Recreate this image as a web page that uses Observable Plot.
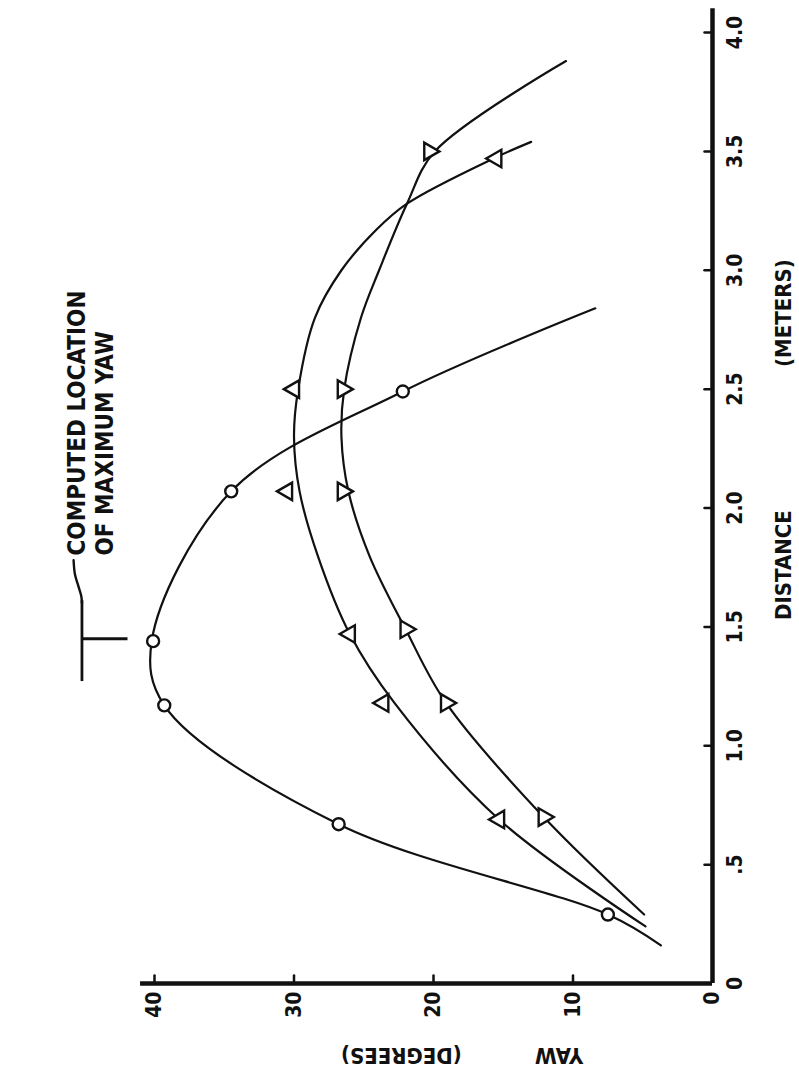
<!DOCTYPE html>
<html>
<head>
<meta charset="utf-8">
<script src="https://cdn.jsdelivr.net/npm/d3@7"></script>
<script src="https://cdn.jsdelivr.net/npm/@observablehq/plot@0.6"></script>
<style>
  html, body { margin: 0; padding: 0; background: #fff; }
  #chart { width: 799px; height: 1079px; overflow: hidden; }
  #chart text { font-stretch: condensed; }
</style>
</head>
<body>
<div id="chart"></div>
<script>
// ---- axis ticks ----
const distTicks = [0, 0.5, 1, 1.5, 2, 2.5, 3, 3.5, 4];
const distLabels = ["0", ".5", "1.0", "1.5", "2.0", "2.5", "3.0", "3.5", "4.0"];
const yawTicks = [0, 10, 20, 30, 40];
const yawLabels = ["0", "10", "20", "30", "40"];

// ---- measured points (distance m, yaw deg) ----
const circleDist = [0.29, 0.67, 1.17, 1.44, 2.07, 2.49];
const circleYaw  = [7.5, 26.8, 39.3, 40.1, 34.5, 22.2];
const triBDist = [0.69, 1.18, 1.47, 2.07, 2.50, 3.47];
const triBYaw  = [15.3, 23.6, 26.0, 30.5, 30.0, 15.5];
const triCDist = [0.70, 1.18, 1.49, 2.07, 2.50, 3.50];
const triCYaw  = [12.1, 19.1, 22.0, 26.5, 26.5, 20.3];

// ---- faired curves ----
const curveADist = [0.16, 0.29, 0.67, 1.17, 1.44, 2.07, 2.49, 2.84];
const curveAYaw  = [3.7, 7.5, 26.8, 39.3, 40.2, 34.5, 22.2, 8.4];
const curveBDist = [0.24, 0.69, 1.18, 1.47, 1.80, 2.07, 2.30, 2.50, 2.80, 3.00, 3.17, 3.28, 3.47, 3.54];
const curveBYaw  = [4.8, 15.3, 22.8, 26.0, 28.3, 29.6, 30.0, 29.7, 28.5, 26.6, 24.1, 21.9, 15.7, 13.0];
const curveCDist = [0.29, 0.70, 1.18, 1.49, 1.80, 2.07, 2.30, 2.50, 2.80, 3.00, 3.28, 3.50, 3.88];
const curveCYaw  = [4.9, 12.1, 19.1, 22.0, 24.6, 26.1, 26.6, 26.4, 25.2, 23.9, 21.9, 19.9, 10.5];

// ---- annotation ----
const maxYawDist = 1.45;
const noteText = "COMPUTED LOCATION\nOF MAXIMUM YAW";
const leaderDist = [1.78, 1.72, 1.67, 1.63, 1.60];
const leaderYaw  = [45.8, 45.7, 45.45, 45.25, 45.2];

const pts = (d, y) => d.map((v, i) => ({dist: v, yaw: y[i]}));
const tickShape = { draw(ctx, l) { ctx.moveTo(0, 0); ctx.lineTo(0, -l); } };
const font = "'DejaVu Sans Condensed', 'DejaVu Sans', sans-serif";
const ink = "#111";

const chart = Plot.plot({
  width: 799,
  height: 1079,
  marginLeft: 154,
  marginRight: 87,
  marginTop: 32,
  marginBottom: 96,
  x: {domain: [40, 0], axis: null},
  y: {domain: [0, 4], axis: null},
  style: {fontFamily: font, background: "#fff", color: ink},
  marks: [
    // axis lines
    Plot.ruleX([0], {y1: 0, y2: 4.1, stroke: ink, strokeWidth: 4.5}),
    Plot.ruleY([0], {x1: 0, x2: 41, stroke: ink, strokeWidth: 4.5}),
    // tick marks (pointing inward)
    Plot.vector(distTicks.slice(1), {x: 0, y: d => d, length: 8, rotate: -90, anchor: "start", shape: tickShape, stroke: ink, strokeWidth: 2.5}),
    Plot.vector(yawTicks.slice(1), {x: d => d, y: 0, length: 8, rotate: 0, anchor: "start", shape: tickShape, stroke: ink, strokeWidth: 2.5}),
    // tick labels
    Plot.axisY(distTicks, {anchor: "right", tickSize: 0, tickPadding: 23, tickRotate: -90,
      textAnchor: "middle", lineAnchor: "middle", fontSize: 21, fontWeight: "bold",
      tickFormat: d => distLabels[distTicks.indexOf(d)], label: null}),
    Plot.axisX(yawTicks, {anchor: "bottom", tickSize: 0, tickPadding: 8, tickRotate: -90,
      textAnchor: "end", lineAnchor: "middle", fontSize: 21, fontWeight: "bold",
      tickFormat: d => yawLabels[yawTicks.indexOf(d)], label: null}),
    // axis titles
    Plot.text(["DISTANCE"], {x: -5.1, y: 1.76, rotate: -90, fontSize: 22, fontWeight: "bold", letterSpacing: 3, text: d => d}),
    Plot.text(["(METERS)"], {x: -5.1, y: 2.82, rotate: -90, fontSize: 22, fontWeight: "bold", letterSpacing: 3, text: d => d}),
    Plot.text(["YAW"], {x: 11.0, y: -0.30, rotate: 180, fontSize: 22, fontWeight: "bold", letterSpacing: 3, text: d => d}),
    Plot.text(["(DEGREES)"], {x: 22.3, y: -0.30, rotate: 180, fontSize: 22, fontWeight: "bold", letterSpacing: 3, text: d => d}),
    // faired curves
    Plot.line(pts(curveADist, curveAYaw), {x: "yaw", y: "dist", curve: "catmull-rom", stroke: ink, strokeWidth: 2.2}),
    Plot.line(pts(curveBDist, curveBYaw), {x: "yaw", y: "dist", curve: "catmull-rom", stroke: ink, strokeWidth: 2.2}),
    Plot.line(pts(curveCDist, curveCYaw), {x: "yaw", y: "dist", curve: "catmull-rom", stroke: ink, strokeWidth: 2.2}),
    // data symbols
    Plot.dot(pts(circleDist, circleYaw), {x: "yaw", y: "dist", r: 6, fill: "#fff", stroke: ink, strokeWidth: 2.4}),
    Plot.dot(pts(triBDist, triBYaw), {x: "yaw", y: "dist", symbol: "triangle", rotate: -90, r: 6.5, fill: "#fff", stroke: ink, strokeWidth: 2.4}),
    Plot.dot(pts(triCDist, triCYaw), {x: "yaw", y: "dist", symbol: "triangle", rotate: 90, r: 6.5, fill: "#fff", stroke: ink, strokeWidth: 2.4}),
    // annotation: location marker, cross bar and leader
    Plot.ruleY([maxYawDist], {x1: 41.9, x2: 45.2, stroke: ink, strokeWidth: 2.8}),
    Plot.ruleX([45.2], {y1: 1.27, y2: 1.61, stroke: ink, strokeWidth: 2.8}),
    Plot.line(pts(leaderDist, leaderYaw), {x: "yaw", y: "dist", curve: "catmull-rom", stroke: ink, strokeWidth: 2.4}),
    Plot.text([noteText], {x: 44.65, y: 1.80, rotate: -90, textAnchor: "start",
      lineAnchor: "middle", lineHeight: 1.17, fontSize: 24, fontWeight: "bold", letterSpacing: 1.5, text: d => d})
  ]
});
document.getElementById("chart").append(chart);
</script>
</body>
</html>
